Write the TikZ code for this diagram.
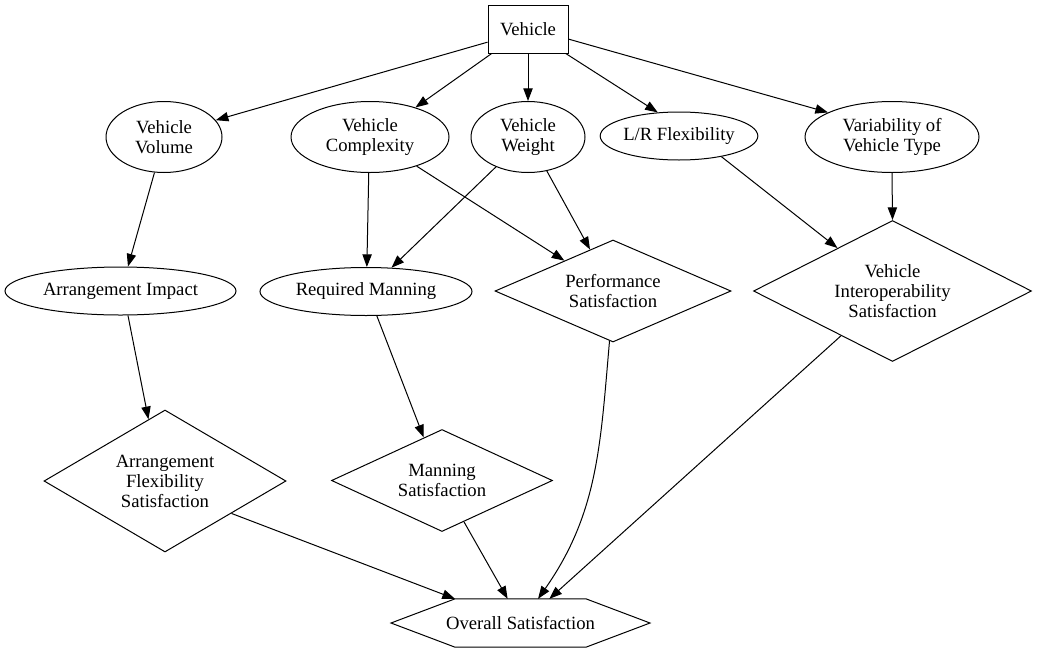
\documentclass[tikz,border=0pt]{standalone}
\usepackage{fontspec}
\setmainfont{Liberation Serif}
\usetikzlibrary{shapes.geometric,arrows.meta}
\tikzset{
  every node/.style={font=\fontsize{14pt}{15pt}\selectfont, align=center, inner sep=0pt},
  oval/.style={draw, ellipse, minimum height=53.25pt},
  dia/.style={draw, diamond, aspect=2},
  link/.style={-{Triangle[length=9.5pt,width=7pt]}}
}
\begin{document}
\begin{tikzpicture}[x=0.75pt, y=-0.75pt, line width=0.75pt]
    \useasboundingbox (0,0) rectangle (1037,653);

    % Top
    \node[draw, minimum width=60pt, minimum height=36pt] (veh) at (528,29) {Vehicle};

    % Vehicle properties
    \node[oval, minimum width=87pt] (vv) at (164,137) {Vehicle\\Volume};
    \node[oval, minimum width=118.5pt] (vc) at (370,137) {Vehicle\\Complexity};
    \node[oval, minimum width=85.5pt] (vw) at (528,137) {Vehicle\\Weight};
    \node[oval, minimum width=106.5pt, minimum height=36pt] (lr) at (679,136) {L/R Flexibility};
    \node[oval, minimum width=130.5pt] (vt) at (892,137) {Variability of\\Vehicle Type};

    % Middle row
    \node[oval, minimum width=173.25pt, minimum height=36pt] (ai) at (120.5,291) {Arrangement Impact};
    \node[oval, minimum width=159pt, minimum height=36pt] (rm) at (366,291.5) {Required Manning};
    \node[dia, minimum width=177pt, minimum height=76.5pt] (ps) at (613,291) {Performance\\Satisfaction};
    \node[dia, minimum width=208.5pt, minimum height=105.75pt] (vi) at (892.5,291) {Vehicle\\Interoperability\\Satisfaction};

    % Lower row
    \node[dia, minimum width=181.5pt, minimum height=106.5pt] (af) at (165,481) {Arrangement\\Flexibility\\Satisfaction};
    \node[dia, minimum width=165.75pt, minimum height=76.5pt] (ms) at (442,480.5) {Manning\\Satisfaction};

    % Result (hexagon round the flat middle part)
    \node[minimum width=97.5pt, minimum height=35.5pt] (ov) at (520.5,623) {\makebox[0pt]{Overall Satisfaction}};
    \draw (ov.north west) -- (ov.north east) -- ([xshift=48pt]ov.east) -- (ov.south east)
          -- (ov.south west) -- ([xshift=-48pt]ov.west) -- cycle;

    % Edges
    \draw[link] (veh.198) -- (vv.18);
    \draw[link] (veh.214) -- (vc.33);
    \draw[link] (veh.south) -- (vw.north);
    \draw[link] (veh.327) -- (lr.132);
    \draw[link] (veh.346) -- (vt.159);
    \draw[link] (vv.255) -- (ai.73);
    \draw[link] (vc.268) -- (rm.88);
    \draw[link] (vw.223) -- (rm.43);
    \draw[link] (vc.328) -- (ps.148);
    \draw[link] (vw.299) -- (ps.119);
    \draw[link] (lr.334) -- (vi.142);
    \draw[link] (vt.south) -- (vi.north);
    \draw[link] (ai.287) -- (af.105);
    \draw[link] (rm.294) -- (ms.113);
    \draw[link] (af.334) -- (ov.north west);
    \draw[link] (ms.298) -- (ov.118);
    \draw[link] (ps.266) to[out=265, in=55] (ov.54);
    \draw[link] (vi.221) -- (ov.40);
\end{tikzpicture}
\end{document}
